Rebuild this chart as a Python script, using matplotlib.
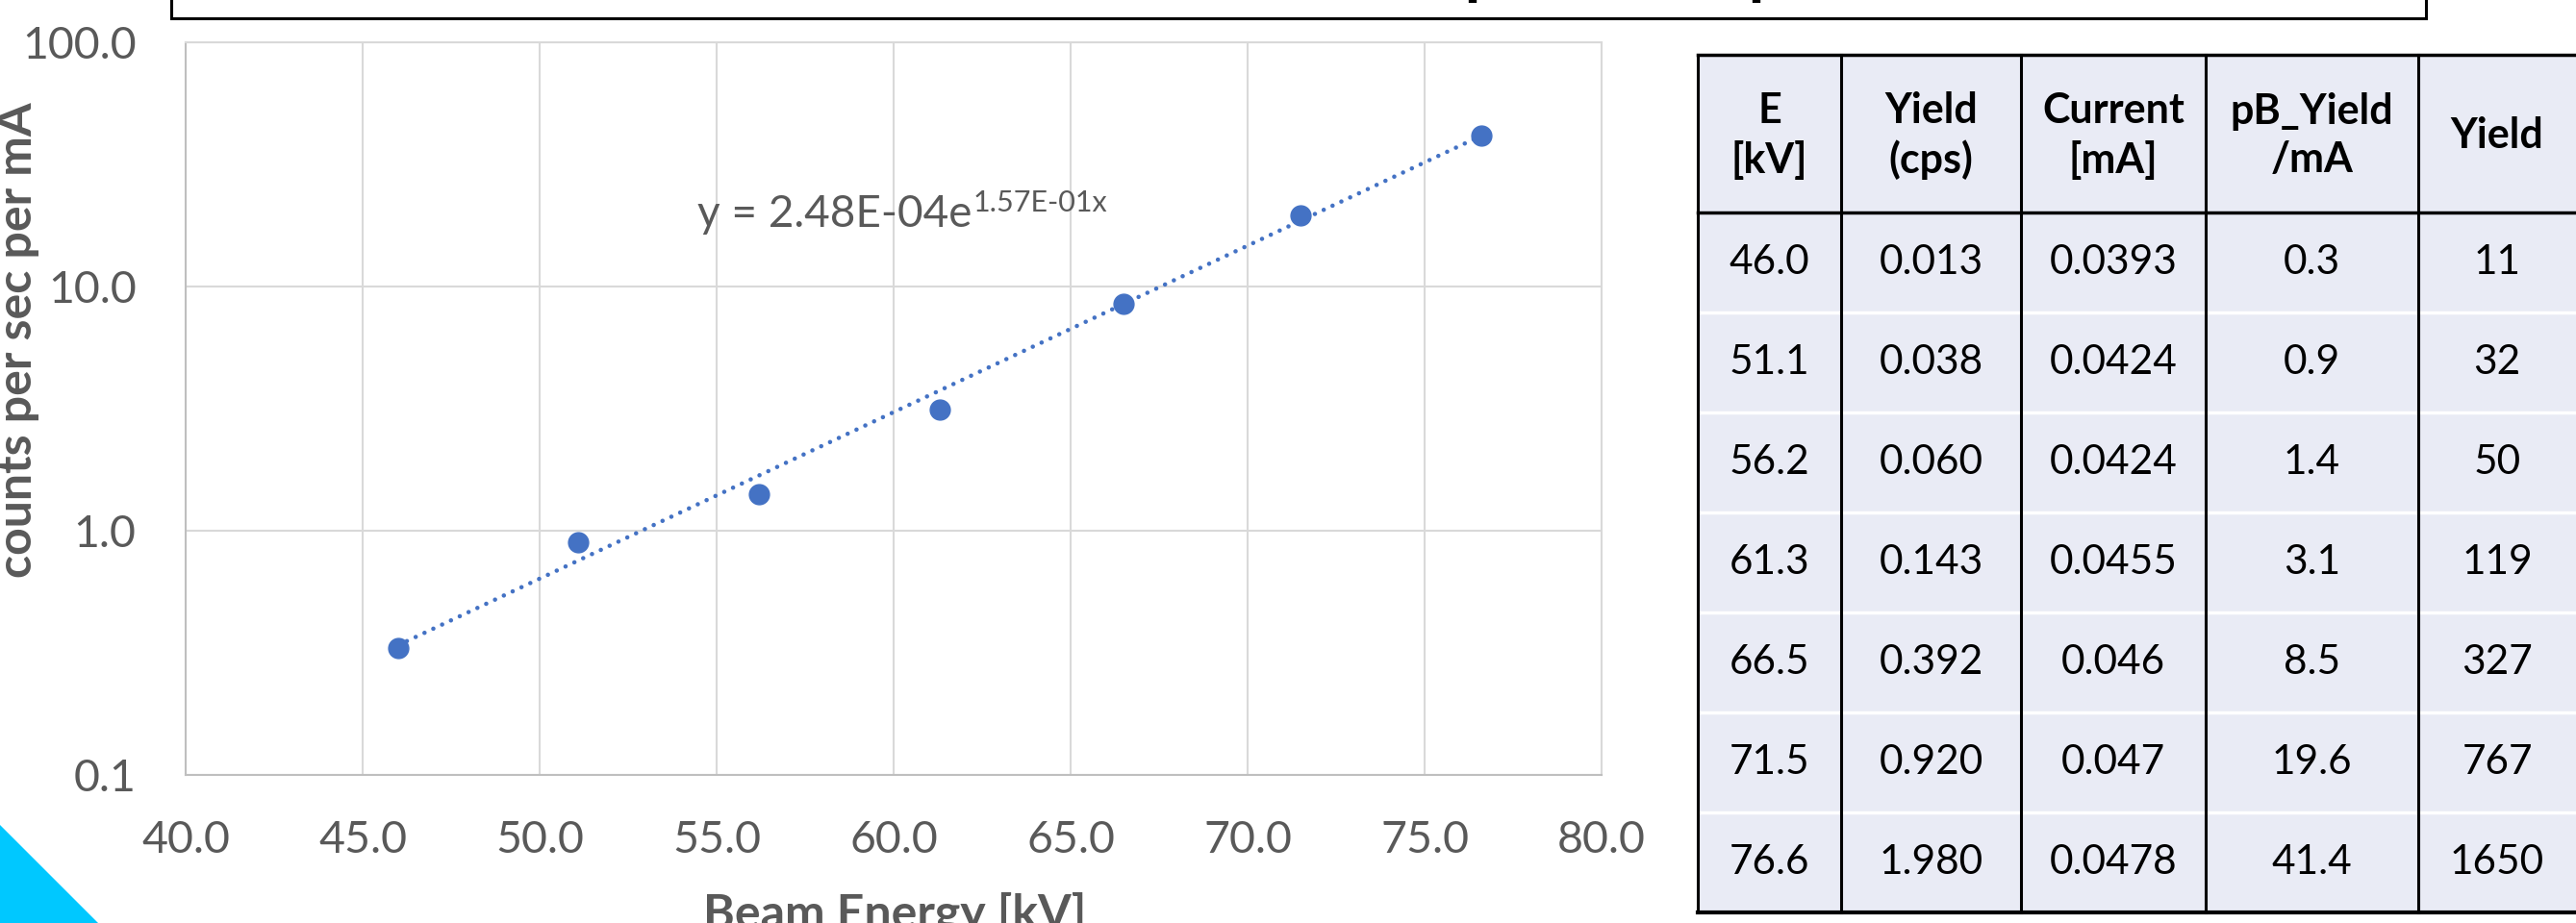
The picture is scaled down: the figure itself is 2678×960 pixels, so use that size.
import numpy as np
import matplotlib
matplotlib.use('Agg')
import matplotlib.pyplot as plt
from matplotlib.patches import Rectangle, Polygon
from matplotlib.ticker import FixedLocator, NullLocator

plt.rcParams['font.family'] = ['Lato', 'DejaVu Sans']

energy_kv = [46.0, 51.1, 56.2, 61.3, 66.5, 71.5, 76.6]
yield_cps = [0.013, 0.038, 0.060, 0.143, 0.392, 0.920, 1.980]
current_ma = [0.0393, 0.0424, 0.0424, 0.0455, 0.046, 0.047, 0.0478]
yield_per_ma = [0.33, 0.90, 1.41, 3.14, 8.52, 19.57, 41.42]
total_yield = [11, 32, 50, 119, 327, 767, 1650]

# exponential trendline shown on the chart
fit_a = 2.48e-4
fit_b = 0.157

x_ticks = [40, 45, 50, 55, 60, 65, 70, 75, 80]
y_ticks = [0.1, 1, 10, 100]
y_tick_labels = ['0.1', '1.0', '10.0', '100.0']
headers = ['E\n[kV]', 'Yield\n(cps)', 'Current\n[mA]', 'pB_Yield\n/mA', 'Yield']

W, H = 2678, 960
fig = plt.figure(figsize=(W / 100, H / 100), dpi=100)
grey = '#595959'
blue = '#4472C4'

# background layer in pixel coords (title box, corner shape, table)
bg = fig.add_axes([0, 0, 1, 1])
bg.set_xlim(0, W)
bg.set_ylim(H, 0)
bg.axis('off')

bg.add_patch(Rectangle((178, -10), 2522 - 178, 29, fill=False, lw=2.2, ec='black'))
bg.plot([1531, 1531], [0, 3], lw=6, color='black', solid_capstyle='butt')
bg.plot([1826, 1826], [0, 3], lw=6, color='black', solid_capstyle='butt')
bg.add_patch(Polygon([(0, 858), (102, 960), (0, 960)], closed=True, fc='#00C8FF', ec='none'))

# table
col_x = [1765, 1914, 2101, 2293, 2514, W]
top, head_bot, row_h = 57, 221, 104
n = len(energy_kv)
bottom = head_bot + n * row_h
bg.add_patch(Rectangle((col_x[0], top), col_x[-1] - col_x[0], bottom - top, fc='#E9EBF5', ec='none'))
for i in range(1, n):
    y = head_bot + i * row_h
    bg.plot([col_x[0], col_x[-1]], [y, y], color='white', lw=2.5)
for x in col_x[:-1]:
    bg.plot([x, x], [top, bottom], color='black', lw=2.2)
bg.plot([col_x[0], col_x[-1]], [top, top], color='black', lw=2.5)
bg.plot([col_x[0], col_x[-1]], [head_bot, head_bot], color='black', lw=2.5)
bg.plot([col_x[0], col_x[-1]], [bottom, bottom], color='black', lw=3)

for j, h in enumerate(headers):
    cx = (col_x[j] + col_x[j + 1]) / 2
    bg.text(cx, (top + head_bot) / 2 + 2, h, ha='center', va='center', fontsize=31,
            fontweight='bold', color='black', linespacing=1.3)

rows = []
for i in range(n):
    rows.append(['%.1f' % energy_kv[i], '%.3f' % yield_cps[i], str(current_ma[i]),
                 '%.1f' % yield_per_ma[i], str(total_yield[i])])
for i, r in enumerate(rows):
    cy = head_bot + (i + 0.5) * row_h
    for j, s in enumerate(r):
        cx = (col_x[j] + col_x[j + 1]) / 2
        bg.text(cx, cy, s, ha='center', va='center', fontsize=30.5, color='black')

# chart
ax = fig.add_axes([193 / W, 154 / H, (1665 - 193) / W, (806 - 44) / H])
ax.set_yscale('log')
ax.set_xlim(40, 80)
ax.set_ylim(0.1, 100)
ax.xaxis.set_major_locator(FixedLocator(x_ticks))
ax.set_xticklabels(['%.1f' % t for t in x_ticks])
ax.yaxis.set_major_locator(FixedLocator(y_ticks))
ax.yaxis.set_minor_locator(NullLocator())
ax.set_yticklabels(y_tick_labels)
ax.tick_params(length=0, labelsize=33.5, labelcolor=grey)
ax.tick_params(axis='x', pad=34)
ax.tick_params(axis='y', pad=37)
ax.grid(True, color='#D9D9D9', lw=1.5)
for s in ax.spines.values():
    s.set_color('#D9D9D9')
    s.set_linewidth(1.5)
ax.spines['bottom'].set_color('#BFBFBF')
ax.spines['left'].set_color('#BFBFBF')

xf = np.linspace(min(energy_kv), max(energy_kv), 200)
ax.plot(xf, fit_a * np.exp(fit_b * xf), color=blue, lw=3.3,
        linestyle=(0, (0.01, 2.2)), dash_capstyle='round', zorder=3)
ax.plot(energy_kv, yield_per_ma, 'o', color=blue, markersize=15, zorder=4)

fig.text(19 / W, 1 - 354 / H, 'counts per sec per mA', rotation=90, ha='center', va='center',
         fontsize=36, fontweight='bold', color=grey)
fig.text(930 / W, 1 - 928 / H, 'Beam Energy [kV]', ha='center', va='top',
         fontsize=36, fontweight='bold', color=grey)

# trendline equation with superscript
eq = fig.text(725 / W, 1 - 236 / H, 'y = 2.48E-04e', ha='left', va='baseline',
              fontsize=33, color=grey)
fig.canvas.draw()
bb = eq.get_window_extent()
fig.text((bb.x1 + 1) / W, 1 - 220 / H, '1.57E-01x', ha='left', va='baseline',
         fontsize=22, color=grey)

fig.savefig('out.png', dpi=100)
